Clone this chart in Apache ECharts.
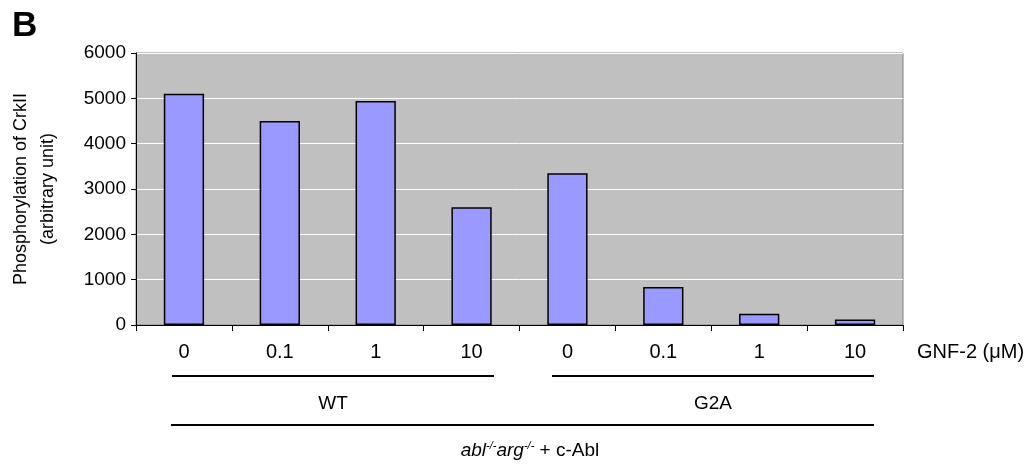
<!DOCTYPE html>
<html>
<head>
<meta charset="utf-8">
<script src="https://cdn.jsdelivr.net/npm/echarts@6/dist/echarts.min.js"></script>
<style>
  html, body { margin: 0; padding: 0; background: #fff; }
  #chart { width: 1034px; height: 464px; }
</style>
</head>
<body>
<div id="chart"></div>
<script>
// GNF-2 doses for each construct
let doseLabels = ['0', '0.1', '1', '10', '0', '0.1', '1', '10'];
let crkValues = [5100, 4500, 4940, 2600, 3350, 840, 250, 120];
let yTicks = [0, 1000, 2000, 3000, 4000, 5000, 6000];

let FONT = 'Liberation Sans, Arial, sans-serif';

let myChart = echarts.init(document.getElementById('chart'));

let option = {
    backgroundColor: '#ffffff',
    animation: false,
    grid: {
        left: 136,
        right: 131,
        top: 53,
        bottom: 139,
        containLabel: false,
        outerBoundsMode: 'none',
        show: true,
        backgroundColor: '#c0c0c0',
        borderColor: '#808080',
        borderWidth: 1
    },
    xAxis: {
        type: 'category',
        data: doseLabels,
        axisLine: { lineStyle: { color: '#000', width: 1 } },
        axisTick: { show: true, length: 6, lineStyle: { color: '#000' } },
        axisLabel: { color: '#000', fontSize: 20, fontFamily: FONT, margin: 17 }
    },
    yAxis: {
        type: 'value',
        min: yTicks[0],
        max: yTicks[yTicks.length - 1],
        interval: 1000,
        name: 'Phosphorylation of CrkII\n(arbitrary unit)',
        nameLocation: 'middle',
        nameRotate: 90,
        nameGap: 74,
        nameTextStyle: { color: '#000', fontSize: 18, fontFamily: FONT, lineHeight: 27 },
        axisLine: { show: true, lineStyle: { color: '#000', width: 1 } },
        axisTick: { show: true, length: 5, lineStyle: { color: '#000' } },
        axisLabel: {
            color: '#000', fontSize: 19, fontFamily: FONT, margin: 10,
            formatter: function (v) { return String(v); }
        },
        splitLine: { show: true, lineStyle: { color: '#ffffff', width: 1 } }
    },
    series: [
        {
            name: 'CrkII',
            type: 'bar',
            data: crkValues,
            barWidth: '42%',
            itemStyle: { color: '#9999ff', borderColor: '#000', borderWidth: 1.5 }
        }
    ],
    graphic: [
        {
            type: 'text', left: 12, top: 9,
            style: { text: 'B', font: 'bold 35px ' + FONT, fill: '#000' }
        },
        {
            type: 'text', left: 917, top: 342,
            style: { text: 'GNF-2 (\u03bcM)', font: '20px ' + FONT, fill: '#000' }
        },
        // group brackets under the axis
        { type: 'line', shape: { x1: 172, y1: 376, x2: 494, y2: 376 }, style: { stroke: '#000', lineWidth: 2 } },
        { type: 'line', shape: { x1: 552, y1: 376, x2: 874, y2: 376 }, style: { stroke: '#000', lineWidth: 2 } },
        { type: 'line', shape: { x1: 171, y1: 425, x2: 874, y2: 425 }, style: { stroke: '#000', lineWidth: 2 } },
        {
            type: 'text', x: 333, y: 404,
            style: { text: 'WT', font: '19px ' + FONT, fill: '#000', textAlign: 'center', textVerticalAlign: 'middle' }
        },
        {
            type: 'text', x: 713, y: 404,
            style: { text: 'G2A', font: '19px ' + FONT, fill: '#000', textAlign: 'center', textVerticalAlign: 'middle' }
        },
        {
            type: 'text', x: 530, y: 451,
            style: {
                text: '{i|abl}{s|-/-}{i|arg}{s|-/-}{n| + c-Abl}',
                textAlign: 'center',
                textVerticalAlign: 'middle',
                rich: {
                    i: { font: 'italic 19px ' + FONT, fill: '#000' },
                    s: { font: 'italic 11px ' + FONT, fill: '#000', padding: [0, 0, 10, 0] },
                    n: { font: '19px ' + FONT, fill: '#000' }
                }
            }
        }
    ]
};

myChart.setOption(option);
</script>
</body>
</html>
